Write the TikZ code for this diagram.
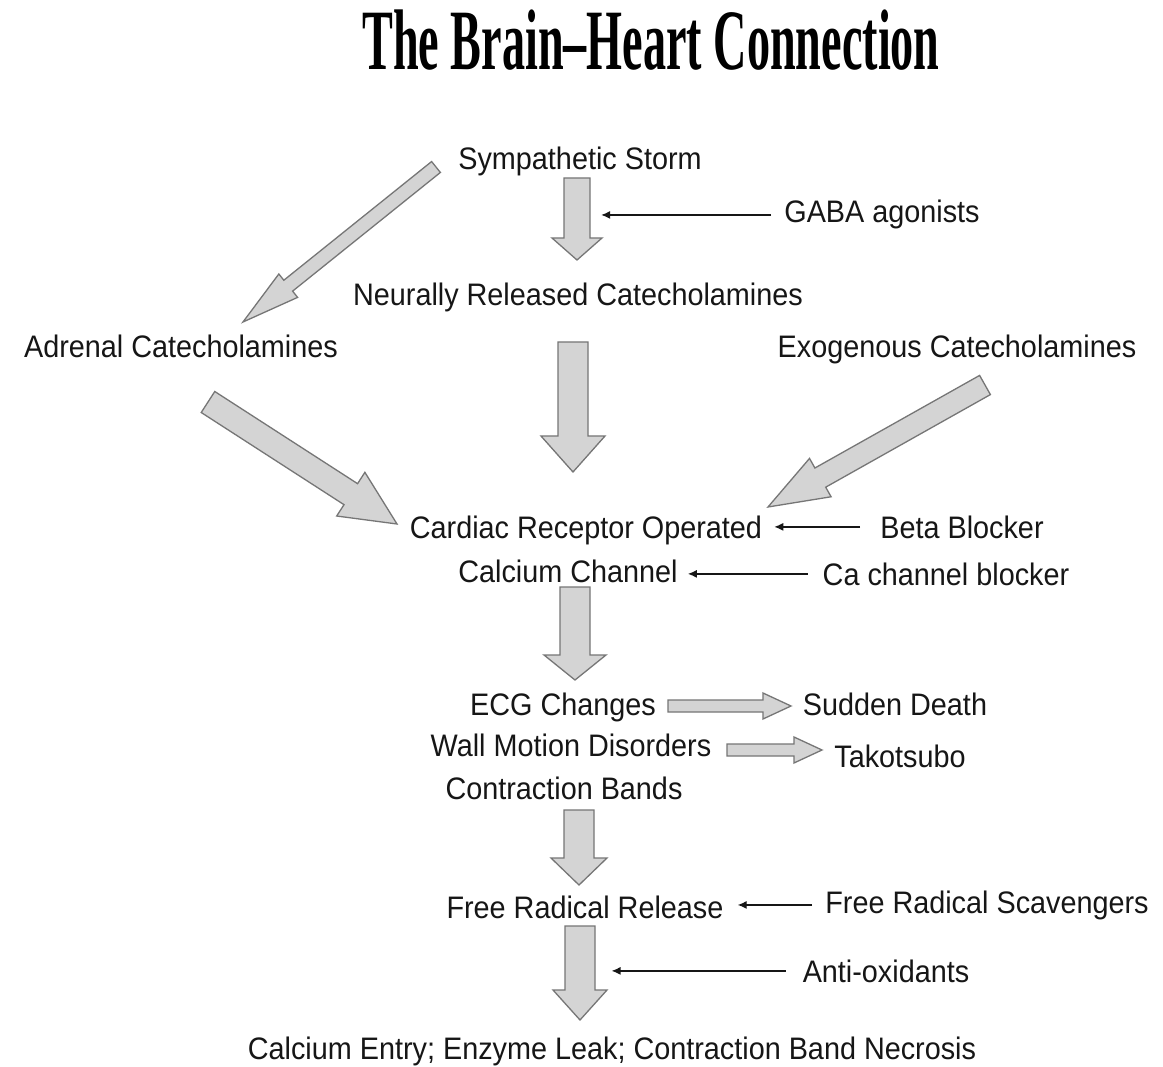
\documentclass[tikz,border=0pt]{standalone}
\usepackage{fontspec}
\setmainfont{Liberation Sans}[FakeStretch=0.926]
\newfontfamily\titlefont{Liberation Serif}
\usepackage{tikz}
\usetikzlibrary{calc,arrows.meta}
\usepackage{xcolor}
\definecolor{arrowfill}{HTML}{D4D4D4}
\definecolor{arrowline}{HTML}{767676}
\definecolor{textcol}{HTML}{161616}
\tikzstyle{lbl} = [inner sep=0pt, anchor=base, text=textcol,
    font=\fontsize{31.1}{36}\selectfont]
\tikzstyle{fatbody} = [draw=arrowline, fill=arrowfill, line width=1.3pt, line join=miter]
\tikzstyle{blocker} = [draw=textcol, line width=1.3pt, -{Latex[length=9pt,width=8pt]}]
% fat arrow: start, tip, shaft half width, head half width, head length
\newcommand{\fatarrow}[5]{%
  \coordinate (fa-h) at ($(#2)!#5!(#1)$);
  \draw[fatbody] ($(#1)!#3!90:(#2)$) -- ($(fa-h)!#3!90:(#2)$) -- ($(fa-h)!#4!90:(#2)$)
    -- (#2) -- ($(fa-h)!#4!-90:(#2)$) -- ($(fa-h)!#3!-90:(#2)$) -- ($(#1)!#3!-90:(#2)$) -- cycle;
}

\begin{document}
\begin{tikzpicture}[x=1pt, y=-1pt]
\fill[white] (0,0) rectangle (1163,1067);
\useasboundingbox (0,0) rectangle (1163,1067);

\node[inner sep=0pt, anchor=base] (title) at (651,70)
    {\scalebox{0.537}[1]{\titlefont\bfseries\fontsize{86}{90}\selectfont The Brain–Heart Connection}};

\node[lbl] (storm) at (580,170) {Sympathetic Storm};
\node[lbl] (gaba) at (882,223) {GABA agonists};
\node[lbl] (neural) at (578,306) {Neurally Released Catecholamines};
\node[lbl] (adrenal) at (181,358) {Adrenal Catecholamines};
\node[lbl] (exo) at (957,358) {Exogenous Catecholamines};
\node[lbl] (receptor) at (586,538) {Cardiac Receptor Operated};
\node[lbl] (channel) at (568,582) {Calcium Channel};
\node[lbl] (beta) at (962,538) {Beta Blocker};
\node[lbl] (cablock) at (946,585) {Ca channel blocker};
\node[lbl] (ecg) at (563,715) {ECG Changes};
\node[lbl] (death) at (895,715) {Sudden Death};
\node[lbl] (wall) at (571,756) {Wall Motion Disorders};
\node[lbl] (tako) at (900,767) {Takotsubo};
\node[lbl] (bands) at (564,799) {Contraction Bands};
\node[lbl] (radical) at (585,918) {Free Radical Release};
\node[lbl] (scav) at (987,913) {Free Radical Scavengers};
\node[lbl] (antiox) at (886,982) {Anti-oxidants};
\node[lbl] (entry) at (612,1059) {Calcium Entry; Enzyme Leak; Contraction Band Necrosis};

% block arrows
\coordinate (storm-out) at (577,178);   \coordinate (neural-in) at (577,260);
\coordinate (neural-out) at (573,342);  \coordinate (receptor-in) at (573,472);
\coordinate (channel-out) at (575,587); \coordinate (ecg-in) at (575,680);
\coordinate (bands-out) at (579,810);   \coordinate (radical-in) at (579,885);
\coordinate (radical-out) at (580,926); \coordinate (entry-in) at (580,1020);
\coordinate (storm-tail) at (436,167);  \coordinate (adrenal-in) at (243,322);
\coordinate (adrenal-out) at (208,402); \coordinate (receptor-l) at (397,524);
\coordinate (exo-out) at (985,385);     \coordinate (receptor-r) at (768,507);
\coordinate (ecg-out) at (668,706);     \coordinate (death-in) at (791,706);
\coordinate (wall-out) at (727,750);    \coordinate (tako-in) at (822,750);

\fatarrow{storm-out}{neural-in}{13pt}{25pt}{22pt}
\fatarrow{neural-out}{receptor-in}{15pt}{32pt}{36pt}
\fatarrow{channel-out}{ecg-in}{15pt}{31pt}{25pt}
\fatarrow{bands-out}{radical-in}{15pt}{28pt}{27pt}
\fatarrow{radical-out}{entry-in}{15pt}{27pt}{30pt}
\fatarrow{storm-tail}{adrenal-in}{7pt}{15pt}{58pt}
\fatarrow{adrenal-out}{receptor-l}{12.5pt}{26pt}{55pt}
\fatarrow{exo-out}{receptor-r}{11pt}{22pt}{60pt}
\fatarrow{ecg-out}{death-in}{6pt}{13pt}{28pt}
\fatarrow{wall-out}{tako-in}{6pt}{13pt}{28pt}

% inhibitors
\draw[blocker] ([xshift=-13pt]gaba.west) -- ++(-170,0) coordinate (gaba-tip);
\draw[blocker] ([xshift=-20pt]beta.west) -- ([xshift=12pt]receptor.east |- beta.west);
\draw[blocker] ([xshift=-15pt]cablock.west) -- ([xshift=10pt]channel.east |- cablock.west);
\draw[blocker] ([xshift=-13pt]scav.west) -- ([xshift=14pt]radical.east |- scav.west);
\draw[blocker] ([xshift=-17pt]antiox.west) -- ++(-174,0) coordinate (antiox-tip);
\end{tikzpicture}
\end{document}
